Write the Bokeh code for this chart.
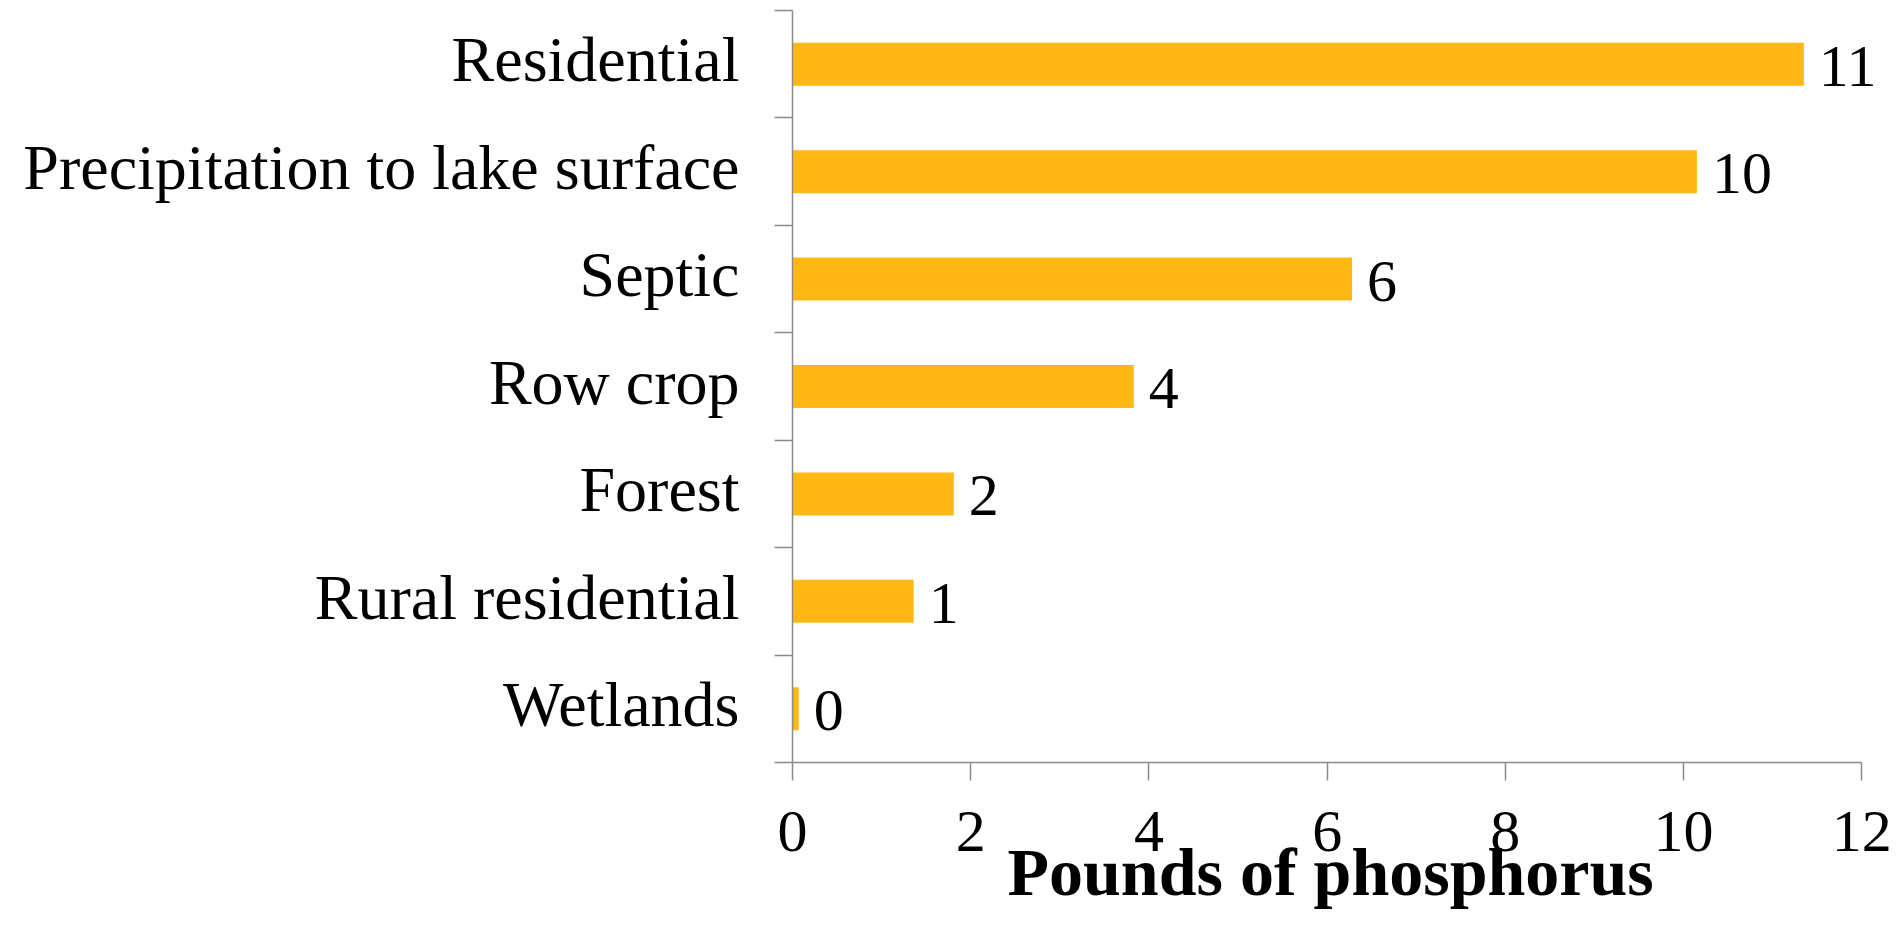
from bokeh.plotting import figure
from bokeh.models import ColumnDataSource, Range1d, FixedTicker, LabelSet, Title
from bokeh.embed import file_html
from bokeh.resources import INLINE

categories = ["Residential", "Precipitation to lake surface", "Septic", "Row crop",
              "Forest", "Rural residential", "Wetlands"]
values = [11.35, 10.15, 6.28, 3.83, 1.81, 1.36, 0.07]
x_ticks = [0, 2, 4, 6, 8, 10, 12]
x_title = "Pounds of phosphorus"

FONT = "Liberation Serif"
BAR = "#FDB813"
GRAY = "#8a8a8a"
LABEL_NUDGE = 0.04  # small upward visual nudge of category labels

n = len(categories)
ypos = [n - i - 0.5 for i in range(n)]
label_ticks = [y + LABEL_NUDGE for y in ypos]
labels = ["{:.0f}".format(v) for v in values]
src = ColumnDataSource(dict(y=ypos, v=values, lab=labels, cat=categories))

p = figure(width=1897, height=937, title=None,
           x_range=Range1d(0, 12.3), y_range=Range1d(0, n),
           output_backend="svg", toolbar_location=None,
           min_border_left=792, min_border_right=9,
           min_border_top=10, min_border_bottom=175)
p.outline_line_color = None
p.grid.visible = False
p.background_fill_color = "white"
p.border_fill_color = "white"

p.hbar(y="y", left=0, right="v", height=0.4, source=src,
       fill_color=BAR, line_color=None)

# x axis
xa = p.xaxis[0]
xa.bounds = (0, 12)
xa.ticker = FixedTicker(ticks=x_ticks)
xa.major_tick_out = 18
xa.major_tick_in = 0
xa.minor_tick_out = 0
xa.minor_tick_in = 0
xa.axis_line_color = GRAY
xa.axis_line_width = 1.5
xa.major_tick_line_color = GRAY
xa.major_tick_line_width = 1.5
xa.major_label_standoff = 31
xa.major_label_text_font = FONT
xa.major_label_text_font_size = "60px"
xa.major_label_text_color = "black"

# x axis title, centred under the 0-12 axis line
xt = Title(text=x_title, align="left", offset=215, vertical_align="top",
           standoff=-40, text_font=FONT, text_font_size="68px",
           text_font_style="bold", text_color="black")
p.add_layout(xt, "below")

# y axis: labels at category centres, ticks at boundaries
ya = p.yaxis[0]
ya.ticker = FixedTicker(ticks=label_ticks, minor_ticks=list(range(n + 1)))
ya.major_label_overrides = {y: c for y, c in zip(label_ticks, categories)}
ya.major_tick_out = 0
ya.major_tick_in = 0
ya.minor_tick_out = 18
ya.minor_tick_in = 0
ya.minor_tick_line_color = GRAY
ya.minor_tick_line_width = 1.5
ya.axis_line_color = GRAY
ya.axis_line_width = 1.5
ya.major_label_standoff = 35
ya.major_label_text_font = FONT
ya.major_label_text_font_size = "64px"
ya.major_label_text_color = "black"

ls = LabelSet(x="v", y="y", text="lab", source=src, x_offset=15, y_offset=-2,
              text_align="left", text_baseline="middle",
              text_font=FONT, text_font_size="60px", text_color="black")
p.add_layout(ls)

open("out.html", "w").write(file_html(p, INLINE))
